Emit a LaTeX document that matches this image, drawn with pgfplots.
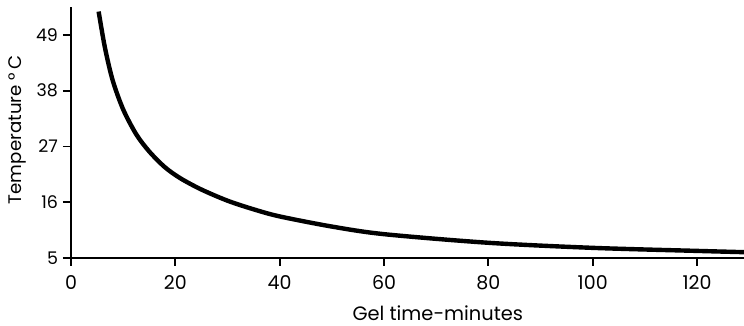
\documentclass[border=0pt]{standalone}
\usepackage{fontspec}
\setmainfont{Poppins}
\usepackage{pgfplots}
\pgfplotsset{compat=1.18}
\begin{document}
\begin{tikzpicture}
\begin{axis}[
  at={(0,0)}, anchor=south west,
  scale only axis,
  width=336.5pt, height=125.5pt,
  xmin=0, xmax=129, ymin=5, ymax=54.5,
  axis lines=left,
  axis line style={line width=1.3pt, -},
  xtick={0,20,40,60,80,100,120},
  ytick={5,16,27,38,49},
  tick align=outside,
  major tick length=4pt,
  tick style={line width=0.9pt, black},
  /pgf/number format/assume math mode=true,
  xticklabel style={font=\fontsize{9.5}{11}\selectfont, yshift=-1pt},
  yticklabel style={font=\fontsize{8.7}{10}\selectfont, xshift=1pt},
  xlabel={Gel time{-}minutes},
  ylabel={Temperature \textdegree\,C},
  xlabel style={font=\fontsize{9.7}{11}\selectfont, at={(axis description cs:0.545,-0.219)}, anchor=center},
  ylabel style={font=\fontsize{9.1}{11}\selectfont, at={(axis description cs:-0.079,0.51)}, anchor=center},
  clip=true,
]
\addplot[black, line width=2.2pt, smooth] coordinates {
(5.3,53.6) (6.5,46.5) (8.0,40.0) (10.0,34.3) (12.5,29.4) (15.0,26.0)
(18.0,22.9) (21.0,20.7) (25.0,18.5) (30.0,16.3) (35.0,14.6) (40.0,13.2)
(50.0,11.2) (60,9.7) (80,8.0) (100,7.0) (120,6.4) (129,6.15)
};
\end{axis}
\pgfresetboundingbox
\path[use as bounding box] (-35.5pt,-34pt) rectangle (336.5pt,129pt);
\end{tikzpicture}
\end{document}
